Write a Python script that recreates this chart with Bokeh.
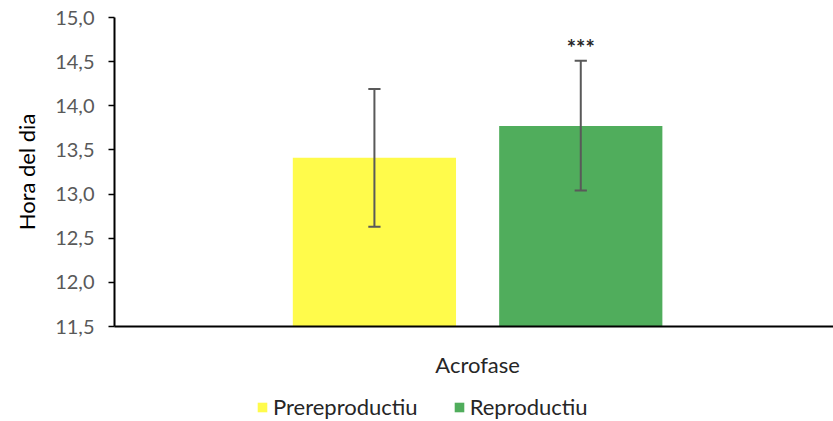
from bokeh.plotting import figure
from bokeh.layouts import column
from bokeh.models import ColumnDataSource, Legend, LegendItem, FixedTicker, Range1d
from bokeh.core.properties import value
from bokeh.embed import file_html
from bokeh.resources import INLINE

category = ["Acrofase"]
series = ["Prereproductiu", "Reproductiu"]
means = [13.41, 13.77]
upper = [14.19, 14.51]
lower = [12.63, 13.04]
colors = ["#FFFB4B", "#50AD5C"]
signif = ["", "***"]
y_ticks = [11.5, 12.0, 12.5, 13.0, 13.5, 14.0, 14.5, 15.0]

FONT = "Lato"
BAR_W = 0.227
GAP = 0.06
CAP = 0.017
ERR_COLOR = "#595959"

p = figure(width=833, height=380, x_range=Range1d(0, 1), y_range=Range1d(11.5, 15.0),
           output_backend="svg", toolbar_location=None,
           min_border_top=17, min_border_right=0, min_border_left=114, min_border_bottom=54)
p.outline_line_color = None
p.grid.grid_line_color = None

center = 0.505
for i, s in enumerate(series):
    xpos = center + (i - 0.5) * (BAR_W + GAP)
    src = ColumnDataSource(dict(x=[xpos], cl=[xpos - CAP / 2], cr=[xpos + CAP / 2],
                                top=[means[i]], up=[upper[i]], lo=[lower[i]],
                                star=[signif[i]], ystar=[upper[i] + 0.15]))
    p.vbar(x="x", top="top", bottom=11.5, width=BAR_W,
           source=src, fill_color=colors[i], line_color=None)
    p.segment(x0="x", y0="lo", x1="x", y1="up", source=src, line_color=ERR_COLOR, line_width=2)
    p.segment(x0="cl", y0="up", x1="cr", y1="up", source=src, line_color=ERR_COLOR, line_width=2)
    p.segment(x0="cl", y0="lo", x1="cr", y1="lo", source=src, line_color=ERR_COLOR, line_width=2)
    p.text(x="x", y="ystar", text="star", source=src,
           text_align="center", text_baseline="middle", text_font=value(FONT),
           text_font_size=value("22px"), text_font_style="bold", text_color="#262626")

# y axis
p.yaxis.ticker = FixedTicker(ticks=y_ticks)
p.yaxis.major_label_overrides = {t: f"{t:.1f}".replace(".", ",") for t in y_ticks}
p.yaxis.axis_label = "Hora del dia"
p.yaxis.axis_label_text_font = FONT
p.yaxis.axis_label_text_font_size = "22px"
p.yaxis.axis_label_text_font_style = "normal"
p.yaxis.axis_label_text_color = "#000000"
p.yaxis.axis_label_standoff = 12
p.yaxis.major_label_text_font = FONT
p.yaxis.major_label_text_font_size = "20px"
p.yaxis.major_label_text_color = "#595959"
p.yaxis.major_label_standoff = 14
p.yaxis.major_tick_in = 0
p.yaxis.major_tick_out = 6
p.yaxis.minor_tick_line_color = None
p.yaxis.axis_line_color = "#000000"
p.yaxis.axis_line_width = 2
p.yaxis.major_tick_line_color = "#000000"
p.yaxis.major_tick_line_width = 1.5

# x axis
p.xaxis.ticker = FixedTicker(ticks=[center])
p.xaxis.major_label_overrides = {center: category[0]}
p.xaxis.major_tick_line_color = None
p.xaxis.minor_tick_line_color = None
p.xaxis.axis_line_color = "#000000"
p.xaxis.axis_line_width = 2
p.xaxis.major_label_text_font = FONT
p.xaxis.major_label_text_font_size = "22px"
p.xaxis.major_label_text_color = "#262626"
p.xaxis.major_label_standoff = 18

# legend strip as its own small figure (its frame is aligned with the main frame)
q = figure(width=833, height=41, x_range=Range1d(0, 1), y_range=Range1d(0, 1),
           output_backend="svg", toolbar_location=None, min_border=0)
q.axis.visible = False
q.grid.visible = False
q.outline_line_color = None
items = []
for i, s in enumerate(series):
    # legend swatch renderer: one bar kept outside the visible range
    r = q.vbar(x=[5], top=[0.5], width=0.1, fill_color=colors[i], line_color=None)
    items.append(LegendItem(label=s, renderers=[r]))
legend = Legend(items=items, orientation="horizontal", location=(142, 1),
                label_text_font=FONT, label_text_font_size="22px", label_text_color="#262626",
                glyph_width=12, glyph_height=12, spacing=35, label_standoff=5,
                padding=0, margin=0, label_height=22,
                border_line_color=None, background_fill_alpha=0)
q.add_layout(legend)

open("out.html", "w").write(file_html(column(p, q), INLINE))
